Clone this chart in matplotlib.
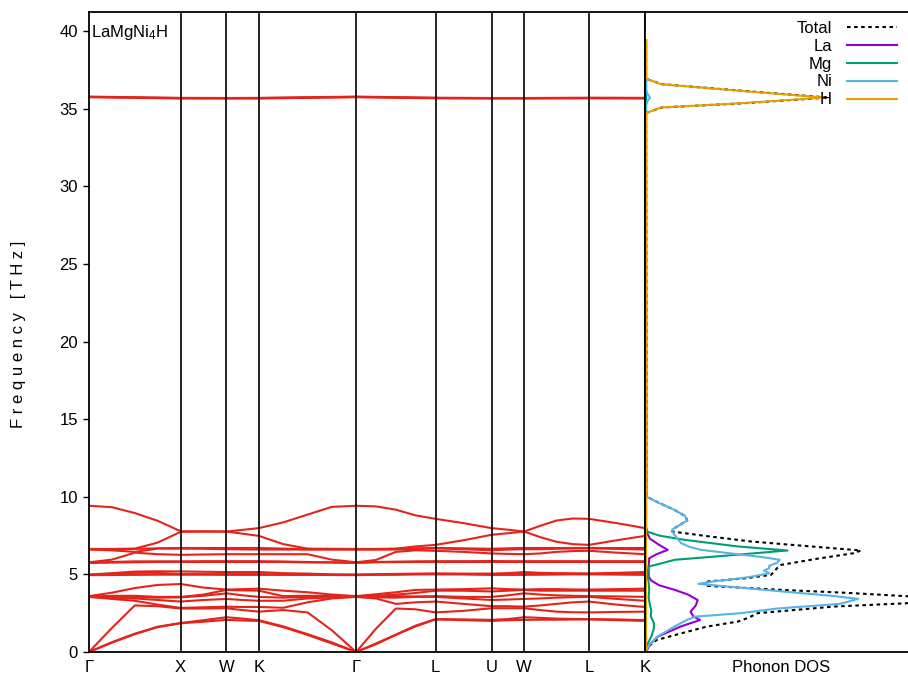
import numpy as np
import matplotlib
matplotlib.use('Agg')
import matplotlib.pyplot as plt

plt.rcParams['font.family'] = ['Liberation Sans', 'DejaVu Sans']
plt.rcParams['font.size'] = 12
plt.rcParams['mathtext.default'] = 'regular'

# fcc path Γ-X-W-K-Γ-L-U-W-L-K, segment lengths in 2pi/a
kpt_labels = ['Γ', 'X', 'W', 'K', 'Γ', 'L', 'U', 'W', 'L', 'K']
seg_length = [1.0, 0.5, 0.3536, 1.0607, 0.8660, 0.6124, 0.3536, 0.7071, 0.6124]
seg_fracs = [[0, .25, .5, .75, 1], [0, .5, 1], [0, .5, 1],
             [0, .25, .5, .75, 1], [0, .25, .5, .75, 1], [0, .5, 1],
             [0, .5, 1], [0, .25, .5, .75, 1], [0, .5, 1]]

# acoustic + low optical branches (THz), one row per k node
low_bands = [
    [0.00, 0.00, 0.00, 3.55, 3.55, 3.58, 3.58, 3.60, 4.95, 4.97, 4.99, 5.74, 5.76, 5.78, 6.60, 6.62, 6.64, 9.42],  # Γ
    [0.60, 0.63, 1.55, 3.42, 3.50, 3.56, 3.62, 3.82, 4.96, 5.02, 5.08, 5.76, 5.80, 5.95, 6.55, 6.62, 6.64, 9.33],
    [1.15, 1.18, 3.00, 3.30, 3.45, 3.55, 3.62, 4.12, 4.97, 5.10, 5.18, 5.78, 5.84, 6.40, 6.45, 6.64, 6.66, 8.95],
    [1.60, 1.63, 2.95, 3.05, 3.35, 3.50, 3.55, 4.32, 4.98, 5.10, 5.20, 5.80, 5.84, 6.30, 6.66, 6.68, 7.05, 8.45],
    [1.85, 1.87, 2.80, 2.84, 3.25, 3.52, 3.55, 4.38, 4.98, 5.02, 5.19, 5.80, 5.84, 6.26, 6.66, 6.70, 7.74, 7.78],  # X
    [1.95, 2.05, 2.80, 2.88, 3.35, 3.62, 3.70, 4.15, 4.98, 5.02, 5.17, 5.80, 5.85, 6.28, 6.65, 6.70, 7.76, 7.77],
    [2.07, 2.24, 2.82, 2.92, 3.42, 3.78, 4.00, 4.02, 4.97, 5.02, 5.15, 5.80, 5.85, 6.30, 6.62, 6.70, 7.76, 7.76],  # W
    [2.03, 2.15, 2.70, 2.90, 3.35, 3.65, 3.97, 4.05, 4.97, 5.02, 5.15, 5.80, 5.85, 6.30, 6.61, 6.70, 7.62, 7.87],
    [2.00, 2.05, 2.60, 2.90, 3.30, 3.55, 3.95, 4.08, 4.97, 5.02, 5.15, 5.80, 5.85, 6.30, 6.60, 6.70, 7.48, 7.98],  # K
    [1.60, 1.65, 2.70, 2.85, 3.30, 3.50, 3.60, 3.95, 4.97, 5.00, 5.08, 5.80, 5.83, 6.30, 6.60, 6.66, 6.95, 8.35],
    [1.10, 1.15, 2.55, 3.20, 3.45, 3.55, 3.62, 3.85, 4.97, 4.99, 5.05, 5.77, 5.80, 6.30, 6.60, 6.62, 6.66, 8.85],
    [0.55, 0.62, 1.40, 3.45, 3.52, 3.58, 3.62, 3.70, 4.96, 4.98, 5.00, 5.76, 5.78, 5.95, 6.60, 6.62, 6.65, 9.35],
    [0.00, 0.00, 0.00, 3.55, 3.55, 3.58, 3.58, 3.60, 4.95, 4.97, 4.99, 5.74, 5.76, 5.78, 6.60, 6.62, 6.64, 9.42],  # Γ
    [0.50, 0.55, 1.50, 3.45, 3.52, 3.58, 3.62, 3.72, 4.97, 4.99, 5.01, 5.78, 5.80, 5.93, 6.60, 6.62, 6.64, 9.38],
    [1.10, 1.12, 2.80, 3.10, 3.50, 3.60, 3.70, 3.85, 4.98, 5.00, 5.03, 5.79, 5.82, 6.45, 6.60, 6.64, 6.66, 9.17],
    [1.65, 1.70, 2.75, 3.20, 3.55, 3.58, 3.80, 4.00, 5.00, 5.02, 5.05, 5.80, 5.84, 6.55, 6.64, 6.68, 6.80, 8.80],
    [2.10, 2.12, 2.55, 3.25, 3.55, 3.60, 3.95, 4.02, 5.00, 5.03, 5.06, 5.80, 5.85, 6.52, 6.68, 6.70, 6.90, 8.58],  # L
    [2.05, 2.10, 2.65, 3.10, 3.45, 3.55, 3.95, 4.05, 5.00, 5.02, 5.05, 5.80, 5.85, 6.45, 6.62, 6.68, 7.20, 8.30],
    [2.00, 2.07, 2.82, 2.95, 3.35, 3.55, 3.90, 4.10, 4.97, 5.00, 5.05, 5.80, 5.86, 6.35, 6.55, 6.65, 7.55, 7.98],  # U
    [2.05, 2.12, 2.82, 2.95, 3.38, 3.65, 3.95, 4.05, 4.97, 5.00, 5.08, 5.80, 5.85, 6.32, 6.60, 6.68, 7.65, 7.88],
    [2.07, 2.24, 2.82, 2.92, 3.42, 3.78, 4.00, 4.02, 4.97, 5.02, 5.15, 5.80, 5.85, 6.30, 6.62, 6.70, 7.76, 7.76],  # W
    [2.08, 2.20, 2.70, 3.00, 3.45, 3.70, 3.95, 4.05, 4.98, 5.02, 5.10, 5.80, 5.85, 6.35, 6.62, 6.70, 7.40, 8.13],
    [2.08, 2.15, 2.60, 3.10, 3.50, 3.65, 3.95, 4.05, 4.99, 5.03, 5.08, 5.80, 5.85, 6.45, 6.65, 6.70, 7.10, 8.47],
    [2.09, 2.13, 2.56, 3.20, 3.53, 3.62, 3.95, 4.03, 5.00, 5.03, 5.07, 5.80, 5.85, 6.50, 6.67, 6.70, 6.95, 8.60],
    [2.10, 2.12, 2.55, 3.25, 3.55, 3.60, 3.95, 4.02, 5.00, 5.03, 5.06, 5.80, 5.85, 6.52, 6.68, 6.70, 6.90, 8.58],  # L
    [2.05, 2.10, 2.58, 3.05, 3.42, 3.58, 3.95, 4.05, 4.99, 5.02, 5.10, 5.80, 5.85, 6.40, 6.64, 6.70, 7.20, 8.30],
    [2.00, 2.05, 2.60, 2.90, 3.30, 3.55, 3.95, 4.08, 4.97, 5.02, 5.15, 5.80, 5.85, 6.30, 6.60, 6.70, 7.48, 7.98],  # K
]

# H stretching branches at the high-symmetry points
h_bands = [
    [35.74, 35.76, 35.78], [35.66, 35.68, 35.70], [35.66, 35.67, 35.69],
    [35.66, 35.68, 35.70], [35.74, 35.76, 35.78], [35.67, 35.69, 35.71],
    [35.66, 35.67, 35.69], [35.66, 35.67, 35.69], [35.67, 35.69, 35.71],
    [35.66, 35.68, 35.70],
]

# projected phonon DOS (arb. units) vs frequency (THz)
tot_f = [0.0, 0.3, 0.77, 1.2, 1.63, 1.96, 2.2, 2.5, 2.93, 3.16, 3.4, 3.57, 3.8, 4.0, 4.26,
         4.54, 4.75, 4.97, 5.2, 5.4, 5.61, 6.0, 6.37, 6.54, 6.8, 7.12, 7.45, 7.76, 7.9,
         8.2, 8.47, 8.75, 9.16, 9.6, 10.0, 34.6, 34.75, 35.08, 35.35, 35.72, 36.15,
         36.58, 36.9, 37.0, 39.4]
tot_d = [0.0, 0.005, 0.04, 0.134, 0.23, 0.35, 0.39, 0.426, 0.72, 1.02, 1.15, 1.02, 0.78,
         0.52, 0.235, 0.235, 0.38, 0.477, 0.49, 0.50, 0.515, 0.65, 0.795, 0.82, 0.63,
         0.40, 0.24, 0.10, 0.10, 0.13, 0.157, 0.15, 0.108, 0.05, 0.003, 0.0, 0.005,
         0.06, 0.37, 0.695, 0.37, 0.06, 0.005, 0.0, 0.0]

la_f = [0.0, 0.5, 0.99, 1.63, 2.06, 2.3, 2.6, 3.0, 3.35, 3.7, 4.0, 4.3, 4.6, 4.86, 5.5,
        6.04, 6.3, 6.58, 6.9, 7.3, 7.7, 8.0, 39.4]
la_d = [0.0, 0.015, 0.045, 0.13, 0.206, 0.18, 0.17, 0.19, 0.197, 0.16, 0.11, 0.05, 0.02,
        0.01, 0.01, 0.012, 0.04, 0.083, 0.05, 0.015, 0.003, 0.0, 0.0]

mg_f = [0.0, 0.5, 1.0, 1.5, 1.85, 2.3, 2.7, 3.0, 3.5, 4.0, 4.5, 5.0, 5.5, 5.94, 6.2,
        6.54, 6.8, 7.23, 7.5, 7.76, 8.0, 39.4]
mg_d = [0.0, 0.005, 0.02, 0.03, 0.03, 0.018, 0.02, 0.015, 0.01, 0.012, 0.01, 0.005, 0.01,
        0.11, 0.3, 0.54, 0.35, 0.146, 0.05, 0.005, 0.0, 0.0]

ni_f = [0.0, 0.26, 0.5, 1.0, 1.63, 2.1, 2.28, 2.5, 2.8, 3.1, 3.42, 3.6, 3.9, 4.39, 4.55,
        4.75, 4.9, 5.08, 5.25, 5.4, 5.55, 5.75, 5.94, 6.1, 6.3, 6.58, 6.75, 7.01, 7.4,
        7.76, 7.9, 8.2, 8.47, 8.75, 9.16, 9.6, 10.0, 35.2, 35.5, 35.72, 35.95, 36.2, 39.4]
ni_d = [0.0, 0.005, 0.015, 0.045, 0.107, 0.16, 0.19, 0.36, 0.50, 0.74, 0.81, 0.72, 0.52,
        0.20, 0.26, 0.36, 0.42, 0.47, 0.45, 0.47, 0.47, 0.50, 0.51, 0.45, 0.35, 0.21, 0.17,
        0.134, 0.115, 0.10, 0.10, 0.13, 0.157, 0.15, 0.108, 0.05, 0.003, 0.0, 0.006,
        0.015, 0.006, 0.0, 0.0]

h_f = [0.0, 34.6, 34.75, 35.08, 35.35, 35.72, 36.15, 36.58, 36.9, 37.0, 39.4]
h_d = [0.0, 0.0, 0.005, 0.057, 0.36, 0.68, 0.36, 0.057, 0.005, 0.0, 0.0]

band_color = '#e3241b'
dos_colors = {'La': '#9400d3', 'Mg': '#009e73', 'Ni': '#56b4e9', 'H': '#e69f00'}

# k coordinates of every node along the path
k_nodes = [0.0]
k_ticks = [0.0]
start = 0.0
for length, fr in zip(seg_length, seg_fracs):
    k_nodes += [start + f * length for f in fr[1:]]
    start += length
    k_ticks.append(start)
k_nodes = np.array(k_nodes)
low_bands = np.array(low_bands)
h_bands = np.array(h_bands)

W, H = 908, 678
fig = plt.figure(figsize=(W / 100, H / 100), dpi=100)
bot = 1 - 652 / H
hgt = (652 - 11.7) / H
ax = fig.add_axes([89 / W, bot, (645 - 89) / W, hgt])
ax_dos = fig.add_axes([645 / W, bot, (910 - 645) / W, hgt])

for b in low_bands.T:
    ax.plot(k_nodes, b, color=band_color, lw=1.5)
for b in h_bands.T:
    ax.plot(k_ticks, b, color=band_color, lw=1.5)
for k in k_ticks[1:-1]:
    ax.axvline(k, color='black', lw=1.2, zorder=3)

ymax = 41.25
ax.set_xlim(0, k_ticks[-1])
ax.set_ylim(0, ymax)
ax.set_xticks(k_ticks)
ax.set_xticklabels(kpt_labels)
ax.set_yticks(np.arange(0, 41, 5))
ax.tick_params(axis='x', length=0, pad=6)
ax.tick_params(axis='y', direction='out', length=4, width=1, pad=4)
for s in ax.spines.values():
    s.set_linewidth(1.3)
ax.text(0.004, 0.983, r'LaMgNi$_4$H', transform=ax.transAxes, ha='left', va='top')
fig.text(19 / W, 1 - 334 / H, 'F r e q u e n c y   [ T H z ]', rotation=90,
         ha='center', va='center')

# DOS panel
ax_dos.plot(tot_d, tot_f, color='black', lw=1.5, linestyle=(0, (1.7, 1.7)), label='Total')
ax_dos.plot(la_d, la_f, color=dos_colors['La'], lw=1.5, label='La')
ax_dos.plot(mg_d, mg_f, color=dos_colors['Mg'], lw=1.5, label='Mg')
ax_dos.plot(ni_d, ni_f, color=dos_colors['Ni'], lw=1.5, label='Ni')
ax_dos.plot(h_d, h_f, color=dos_colors['H'], lw=1.5, label='H')
ax_dos.set_xlim(-0.004, 1.0075)
ax_dos.set_ylim(0, ymax)
ax_dos.set_xticks([])
ax_dos.set_yticks([])
for s in ax_dos.spines.values():
    s.set_linewidth(1.3)
ax_dos.set_xlabel('Phonon DOS')
ax_dos.xaxis.set_label_coords(0.513, -0.012)

ax_dos.legend(loc='upper right', bbox_to_anchor=(897 / W, 1 - 21 / H),
              bbox_transform=fig.transFigure, frameon=False, markerfirst=False,
              handlelength=3.0, handletextpad=0.9, labelspacing=0.17,
              borderpad=0, borderaxespad=0)

fig.savefig('out.png', dpi=100)
